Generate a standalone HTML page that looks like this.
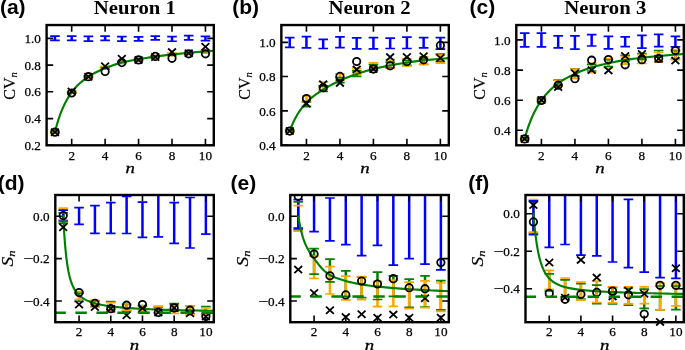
<!DOCTYPE html>
<html><head><meta charset="utf-8"><title>Figure</title>
<style>
html,body{margin:0;padding:0;background:#fff}
svg{display:block}
text{font-family:"Liberation Serif","DejaVu Serif",serif;fill:#000}
.tk text{font-size:13.2px;stroke:#000;stroke-width:.25px}
.pl{font-family:"Liberation Sans","DejaVu Sans",sans-serif;font-weight:bold;font-size:21px}
.ti{font-weight:bold;font-size:19.5px}
.it{font-style:italic;font-size:14.5px;stroke:#000;stroke-width:.3px}
.yl{font-size:16px;stroke:#000;stroke-width:.2px}
.sub{font-style:italic;font-size:10.5px}
</style></head><body>
<svg width="685" height="350" viewBox="0 0 685 350">
<rect width="685" height="350" fill="#fff"/>
<g id="pa" fill="none">
<clipPath id="ca"><rect x="46.6" y="25.05" width="167.2" height="120.25"/></clipPath>
<g clip-path="url(#ca)">
<path d="M54.96 131.4V133M71.68 91.5V93.1M88.4 75.9V77.5M105.12 67.4V69M121.84 61.8V63.4M138.56 58.4V60M155.28 55.8V57.4M172 53.7V55.3M188.72 52V53.6M205.44 50.5V52.1" stroke="#008000" stroke-width="2.5"/>
<path d="M54.96 131V133.4M71.68 90.8V93.2M88.4 75.5V77.9M105.12 66.4V68.8M121.84 60.8V63.2M138.56 58.7V61.1M155.28 55.3V57.7M172 53.2V55.6M188.72 52.3V54.7M205.44 50.8V53.2" stroke="#ffa500" stroke-width="2.5"/>
<path d="M54.96 36.15V40.35M71.68 36.15V40.35M88.4 36.45V41.05M105.12 36.15V40.35M121.84 36.65V41.05M138.56 36.85V40.85M155.28 36.15V39.95M172 36.65V41.25M188.72 35.55V39.95M205.44 36.45V40.65" stroke="#0000ff" stroke-width="2.5"/>
<path d="M50.16 131.4h9.6M50.16 133h9.6M66.88 91.5h9.6M66.88 93.1h9.6M83.6 75.9h9.6M83.6 77.5h9.6M100.32 67.4h9.6M100.32 69h9.6M117.04 61.8h9.6M117.04 63.4h9.6M133.76 58.4h9.6M133.76 60h9.6M150.48 55.8h9.6M150.48 57.4h9.6M167.2 53.7h9.6M167.2 55.3h9.6M183.92 52h9.6M183.92 53.6h9.6M200.64 50.5h9.6M200.64 52.1h9.6" stroke="#008000" stroke-width="1.7"/>
<path d="M50.16 131h9.6M50.16 133.4h9.6M66.88 90.8h9.6M66.88 93.2h9.6M83.6 75.5h9.6M83.6 77.9h9.6M100.32 66.4h9.6M100.32 68.8h9.6M117.04 60.8h9.6M117.04 63.2h9.6M133.76 58.7h9.6M133.76 61.1h9.6M150.48 55.3h9.6M150.48 57.7h9.6M167.2 53.2h9.6M167.2 55.6h9.6M183.92 52.3h9.6M183.92 54.7h9.6M200.64 50.8h9.6M200.64 53.2h9.6" stroke="#ffa500" stroke-width="1.7"/>
<path d="M50.16 36.15h9.6M50.16 40.35h9.6M66.88 36.15h9.6M66.88 40.35h9.6M83.6 36.45h9.6M83.6 41.05h9.6M100.32 36.15h9.6M100.32 40.35h9.6M117.04 36.65h9.6M117.04 41.05h9.6M133.76 36.85h9.6M133.76 40.85h9.6M150.48 36.15h9.6M150.48 39.95h9.6M167.2 36.65h9.6M167.2 41.25h9.6M183.92 35.55h9.6M183.92 39.95h9.6M200.64 36.45h9.6M200.64 40.65h9.6" stroke="#0000ff" stroke-width="1.7"/>
<path d="M54.96 132.2L55.41 130.37L55.87 128.57L56.34 126.79L56.82 125.04L57.32 123.3L57.83 121.6L58.36 119.91L58.9 118.26L59.45 116.62L60.02 115.01L60.6 113.43L61.2 111.86L61.81 110.33L62.44 108.81L63.09 107.33L63.76 105.86L64.44 104.42L65.14 103.01L65.86 101.62L66.6 100.25L67.36 98.91L68.14 97.6L68.94 96.31L69.76 95.04L70.61 93.8L71.47 92.58L72.36 91.39L73.28 90.23L74.21 89.1L75.18 87.99L76.17 86.9L77.18 85.84L78.22 84.81L79.29 83.79L80.39 82.8L81.52 81.82L82.68 80.87L83.87 79.93L85.09 79.01L86.35 78.1L87.63 77.21L88.96 76.34L90.31 75.48L91.71 74.65L93.14 73.83L94.61 73.03L96.12 72.25L97.67 71.48L99.26 70.73L100.89 69.99L102.57 69.26L104.29 68.54L106.06 67.82L107.88 67.11L109.74 66.41L111.65 65.71L113.62 65.03L115.64 64.37L117.71 63.74L119.84 63.13L122.02 62.55L124.27 62.01L126.57 61.49L128.93 61L131.36 60.52L133.85 60.05L136.41 59.58L139.04 59.12L141.74 58.65L144.51 58.2L147.36 57.76L150.28 57.32L153.28 56.88L156.36 56.45L159.52 56.03L162.77 55.6L166.1 55.19L169.52 54.78L173.04 54.38L176.65 54L180.35 53.62L184.16 53.24L188.06 52.86L192.08 52.48L196.19 52.09L200.42 51.72L204.76 51.35L209.22 51.02L213.8 50.7" stroke="#008000" stroke-width="2.15" stroke-linejoin="round"/>
<circle cx="54.96" cy="132.2" r="3.7" stroke="#000" stroke-width="1.8"/>
<path d="M51.06 128.6L58.86 135.8M51.06 135.8L58.86 128.6" stroke="#000" stroke-width="1.8"/>
<circle cx="71.68" cy="93" r="3.7" stroke="#000" stroke-width="1.8"/>
<path d="M67.78 87.9L75.58 95.1M67.78 95.1L75.58 87.9" stroke="#000" stroke-width="1.8"/>
<circle cx="88.4" cy="76.7" r="3.7" stroke="#000" stroke-width="1.8"/>
<path d="M84.5 73.1L92.3 80.3M84.5 80.3L92.3 73.1" stroke="#000" stroke-width="1.8"/>
<circle cx="105.12" cy="71.4" r="3.7" stroke="#000" stroke-width="1.8"/>
<path d="M101.22 62.7L109.02 69.9M101.22 69.9L109.02 62.7" stroke="#000" stroke-width="1.8"/>
<circle cx="121.84" cy="62.6" r="3.7" stroke="#000" stroke-width="1.8"/>
<path d="M117.94 55.2L125.74 62.4M117.94 62.4L125.74 55.2" stroke="#000" stroke-width="1.8"/>
<circle cx="138.56" cy="59.9" r="3.7" stroke="#000" stroke-width="1.8"/>
<path d="M134.66 56.3L142.46 63.5M134.66 63.5L142.46 56.3" stroke="#000" stroke-width="1.8"/>
<circle cx="155.28" cy="56.4" r="3.7" stroke="#000" stroke-width="1.8"/>
<path d="M151.38 53.4L159.18 60.6M151.38 60.6L159.18 53.4" stroke="#000" stroke-width="1.8"/>
<circle cx="172" cy="58.3" r="3.7" stroke="#000" stroke-width="1.8"/>
<path d="M168.1 48.5L175.9 55.7M168.1 55.7L175.9 48.5" stroke="#000" stroke-width="1.8"/>
<circle cx="188.72" cy="53.8" r="3.7" stroke="#000" stroke-width="1.8"/>
<path d="M184.82 49.6L192.62 56.8M184.82 56.8L192.62 49.6" stroke="#000" stroke-width="1.8"/>
<circle cx="205.44" cy="53.8" r="3.7" stroke="#000" stroke-width="1.8"/>
<path d="M201.54 43.1L209.34 50.3M201.54 50.3L209.34 43.1" stroke="#000" stroke-width="1.8"/>
</g>
<path d="M71.68 25.05v6.6M71.68 145.3v-6.6M105.12 25.05v6.6M105.12 145.3v-6.6M138.56 25.05v6.6M138.56 145.3v-6.6M172 25.05v6.6M172 145.3v-6.6M205.44 25.05v6.6M205.44 145.3v-6.6M46.6 38.4h6.6M213.8 38.4h-6.6M46.6 65.1h6.6M213.8 65.1h-6.6M46.6 91.8h6.6M213.8 91.8h-6.6M46.6 118.6h6.6M213.8 118.6h-6.6M46.6 145.3h6.6M213.8 145.3h-6.6" stroke="#000" stroke-width="1.6"/>
<rect x="46.6" y="25.05" width="167.2" height="120.25" stroke="#000" stroke-width="2.4"/>
</g>
<g class="tk">
<text x="71.68" y="160" text-anchor="middle">2</text>
<text x="105.12" y="160" text-anchor="middle">4</text>
<text x="138.56" y="160" text-anchor="middle">6</text>
<text x="172" y="160" text-anchor="middle">8</text>
<text x="205.44" y="160" text-anchor="middle">10</text>
<text x="40.9" y="43" text-anchor="end">1.0</text>
<text x="40.9" y="69.7" text-anchor="end">0.8</text>
<text x="40.9" y="96.4" text-anchor="end">0.6</text>
<text x="40.9" y="123.2" text-anchor="end">0.4</text>
<text x="40.9" y="149.9" text-anchor="end">0.2</text>
</g>
<g id="pb" fill="none">
<clipPath id="cb"><rect x="281.35" y="25.05" width="167.45" height="120.25"/></clipPath>
<g clip-path="url(#cb)">
<path d="M289.72 130.3V132M306.46 102V106.6M323.2 85.8V91.4M339.94 77.6V82.6M356.68 70.7V76.4M373.42 64.5V70M390.16 62.2V67.9M406.9 60.5V65.4M423.64 59.1V64.5M440.38 54.2V61.7" stroke="#008000" stroke-width="2.5"/>
<path d="M289.72 129.8V132.4M306.46 96V101.5M323.2 82V89.5M339.94 73.8V80.1M356.68 68.2V74.1M373.42 62.9V71M390.16 59.7V68.5M406.9 59.2V66M423.64 56.8V64.1M440.38 55V63.1" stroke="#ffa500" stroke-width="2.5"/>
<path d="M289.72 37.55V47.3M306.46 36.55V47.9M323.2 39.45V48.5M339.94 36.95V47.6M356.68 37.85V48.9M373.42 37.55V48.8M390.16 38.15V48.5M406.9 37.15V48.5M423.64 37.55V47.9M440.38 37.55V49.2" stroke="#0000ff" stroke-width="2.5"/>
<path d="M284.92 130.3h9.6M284.92 132h9.6M301.66 102h9.6M301.66 106.6h9.6M318.4 85.8h9.6M318.4 91.4h9.6M335.14 77.6h9.6M335.14 82.6h9.6M351.88 70.7h9.6M351.88 76.4h9.6M368.62 64.5h9.6M368.62 70h9.6M385.36 62.2h9.6M385.36 67.9h9.6M402.1 60.5h9.6M402.1 65.4h9.6M418.84 59.1h9.6M418.84 64.5h9.6M435.58 54.2h9.6M435.58 61.7h9.6" stroke="#008000" stroke-width="1.7"/>
<path d="M284.92 129.8h9.6M284.92 132.4h9.6M301.66 96h9.6M301.66 101.5h9.6M318.4 82h9.6M318.4 89.5h9.6M335.14 73.8h9.6M335.14 80.1h9.6M351.88 68.2h9.6M351.88 74.1h9.6M368.62 62.9h9.6M368.62 71h9.6M385.36 59.7h9.6M385.36 68.5h9.6M402.1 59.2h9.6M402.1 66h9.6M418.84 56.8h9.6M418.84 64.1h9.6M435.58 55h9.6M435.58 63.1h9.6" stroke="#ffa500" stroke-width="1.7"/>
<path d="M284.92 37.55h9.6M284.92 47.3h9.6M301.66 36.55h9.6M301.66 47.9h9.6M318.4 39.45h9.6M318.4 48.5h9.6M335.14 36.95h9.6M335.14 47.6h9.6M351.88 37.85h9.6M351.88 48.9h9.6M368.62 37.55h9.6M368.62 48.8h9.6M385.36 38.15h9.6M385.36 48.5h9.6M402.1 37.15h9.6M402.1 48.5h9.6M418.84 37.55h9.6M418.84 47.9h9.6M435.58 37.55h9.6M435.58 49.2h9.6" stroke="#0000ff" stroke-width="1.7"/>
<path d="M289.72 131.1L290.17 129.86L290.63 128.63L291.1 127.41L291.59 126.21L292.08 125.02L292.6 123.84L293.12 122.67L293.66 121.51L294.21 120.37L294.78 119.24L295.37 118.12L295.96 117.01L296.58 115.92L297.21 114.83L297.86 113.76L298.53 112.7L299.21 111.65L299.91 110.61L300.63 109.59L301.37 108.57L302.13 107.57L302.92 106.58L303.72 105.6L304.54 104.63L305.38 103.67L306.25 102.72L307.14 101.79L308.06 100.88L309 99.99L309.96 99.12L310.95 98.27L311.97 97.42L313.01 96.59L314.08 95.77L315.18 94.96L316.31 94.15L317.47 93.34L318.66 92.53L319.89 91.72L321.14 90.91L322.43 90.08L323.76 89.25L325.12 88.42L326.51 87.58L327.95 86.75L329.42 85.91L330.93 85.08L332.48 84.25L334.07 83.43L335.71 82.6L337.39 81.79L339.11 80.98L340.88 80.18L342.7 79.38L344.57 78.58L346.48 77.79L348.45 77.01L350.47 76.23L352.55 75.46L354.68 74.69L356.86 73.94L359.11 73.19L361.41 72.44L363.78 71.7L366.21 70.97L368.71 70.25L371.27 69.55L373.9 68.88L376.6 68.23L379.38 67.6L382.23 66.98L385.15 66.38L388.16 65.78L391.24 65.2L394.41 64.62L397.66 64.06L400.99 63.51L404.42 62.97L407.94 62.45L411.55 61.93L415.26 61.42L419.07 60.94L422.98 60.47L427 60.04L431.12 59.64L435.36 59.25L439.7 58.86L444.17 58.48L448.75 58.1" stroke="#008000" stroke-width="2.15" stroke-linejoin="round"/>
<circle cx="289.72" cy="131.1" r="3.7" stroke="#000" stroke-width="1.8"/>
<path d="M285.82 127.5L293.62 134.7M285.82 134.7L293.62 127.5" stroke="#000" stroke-width="1.8"/>
<circle cx="306.46" cy="98.5" r="3.7" stroke="#000" stroke-width="1.8"/>
<path d="M302.56 100L310.36 107.2M302.56 107.2L310.36 100" stroke="#000" stroke-width="1.8"/>
<circle cx="323.2" cy="87.7" r="3.7" stroke="#000" stroke-width="1.8"/>
<path d="M319.3 80.6L327.1 87.8M319.3 87.8L327.1 80.6" stroke="#000" stroke-width="1.8"/>
<circle cx="339.94" cy="76.4" r="3.7" stroke="#000" stroke-width="1.8"/>
<path d="M336.04 79.3L343.84 86.5M336.04 86.5L343.84 79.3" stroke="#000" stroke-width="1.8"/>
<circle cx="356.68" cy="61.5" r="3.7" stroke="#000" stroke-width="1.8"/>
<path d="M352.78 65.8L360.58 73M352.78 73L360.58 65.8" stroke="#000" stroke-width="1.8"/>
<circle cx="373.42" cy="69.1" r="3.7" stroke="#000" stroke-width="1.8"/>
<path d="M369.52 65.5L377.32 72.7M369.52 72.7L377.32 65.5" stroke="#000" stroke-width="1.8"/>
<circle cx="390.16" cy="65.8" r="3.7" stroke="#000" stroke-width="1.8"/>
<path d="M386.26 53.5L394.06 60.7M386.26 60.7L394.06 53.5" stroke="#000" stroke-width="1.8"/>
<circle cx="406.9" cy="61.6" r="3.7" stroke="#000" stroke-width="1.8"/>
<path d="M403 53.4L410.8 60.6M403 60.6L410.8 53.4" stroke="#000" stroke-width="1.8"/>
<circle cx="423.64" cy="59.8" r="3.7" stroke="#000" stroke-width="1.8"/>
<path d="M419.74 52.7L427.54 59.9M419.74 59.9L427.54 52.7" stroke="#000" stroke-width="1.8"/>
<circle cx="440.38" cy="45.4" r="3.7" stroke="#000" stroke-width="1.8"/>
<path d="M436.48 54.4L444.28 61.6M436.48 61.6L444.28 54.4" stroke="#000" stroke-width="1.8"/>
</g>
<path d="M306.46 25.05v6.6M306.46 145.3v-6.6M339.94 25.05v6.6M339.94 145.3v-6.6M373.42 25.05v6.6M373.42 145.3v-6.6M406.9 25.05v6.6M406.9 145.3v-6.6M440.38 25.05v6.6M440.38 145.3v-6.6M281.35 42.4h6.6M448.8 42.4h-6.6M281.35 76.5h6.6M448.8 76.5h-6.6M281.35 110.9h6.6M448.8 110.9h-6.6M281.35 145.3h6.6M448.8 145.3h-6.6" stroke="#000" stroke-width="1.6"/>
<rect x="281.35" y="25.05" width="167.45" height="120.25" stroke="#000" stroke-width="2.4"/>
</g>
<g class="tk">
<text x="306.46" y="160" text-anchor="middle">2</text>
<text x="339.94" y="160" text-anchor="middle">4</text>
<text x="373.42" y="160" text-anchor="middle">6</text>
<text x="406.9" y="160" text-anchor="middle">8</text>
<text x="440.38" y="160" text-anchor="middle">10</text>
<text x="275.65" y="47" text-anchor="end">1.0</text>
<text x="275.65" y="81.1" text-anchor="end">0.8</text>
<text x="275.65" y="115.5" text-anchor="end">0.6</text>
<text x="275.65" y="149.9" text-anchor="end">0.4</text>
</g>
<g id="pc" fill="none">
<clipPath id="cc"><rect x="516.3" y="25.05" width="167.5" height="120.25"/></clipPath>
<g clip-path="url(#cc)">
<path d="M524.67 138V139.8M541.42 98.8V101.5M558.17 80.2V85.5M574.92 68.9V76M591.67 64.5V71M608.42 59.7V66.7M625.17 55.4V61M641.92 53.5V59.5M658.67 50.5V56M675.42 50.7V59.2" stroke="#008000" stroke-width="2.5"/>
<path d="M524.67 137.5V140M541.42 98V102M558.17 80.5V86M574.92 69.2V78.3M591.67 63.2V72.6M608.42 58.5V67.9M625.17 56.6V64.1M641.92 54.7V63.5M658.67 52.4V62M675.42 49.7V59.7" stroke="#ffa500" stroke-width="2.5"/>
<path d="M524.67 33.15V46.9M541.42 33.15V46.9M558.17 35.95V47.9M574.92 35.95V49.2M591.67 34.65V46M608.42 36.35V48.9M625.17 36.95V46.6M641.92 35.45V48.2M658.67 34.45V46.6M675.42 36.35V46.9" stroke="#0000ff" stroke-width="2.5"/>
<path d="M519.88 138h9.6M519.88 139.8h9.6M536.62 98.8h9.6M536.62 101.5h9.6M553.38 80.2h9.6M553.38 85.5h9.6M570.12 68.9h9.6M570.12 76h9.6M586.88 64.5h9.6M586.88 71h9.6M603.62 59.7h9.6M603.62 66.7h9.6M620.38 55.4h9.6M620.38 61h9.6M637.12 53.5h9.6M637.12 59.5h9.6M653.88 50.5h9.6M653.88 56h9.6M670.62 50.7h9.6M670.62 59.2h9.6" stroke="#008000" stroke-width="1.7"/>
<path d="M519.88 137.5h9.6M519.88 140h9.6M536.62 98h9.6M536.62 102h9.6M553.38 80.5h9.6M553.38 86h9.6M570.12 69.2h9.6M570.12 78.3h9.6M586.88 63.2h9.6M586.88 72.6h9.6M603.62 58.5h9.6M603.62 67.9h9.6M620.38 56.6h9.6M620.38 64.1h9.6M637.12 54.7h9.6M637.12 63.5h9.6M653.88 52.4h9.6M653.88 62h9.6M670.62 49.7h9.6M670.62 59.7h9.6" stroke="#ffa500" stroke-width="1.7"/>
<path d="M519.88 33.15h9.6M519.88 46.9h9.6M536.62 33.15h9.6M536.62 46.9h9.6M553.38 35.95h9.6M553.38 47.9h9.6M570.12 35.95h9.6M570.12 49.2h9.6M586.88 34.65h9.6M586.88 46h9.6M603.62 36.35h9.6M603.62 48.9h9.6M620.38 36.95h9.6M620.38 46.6h9.6M637.12 35.45h9.6M637.12 48.2h9.6M653.88 34.45h9.6M653.88 46.6h9.6M670.62 36.35h9.6M670.62 46.9h9.6" stroke="#0000ff" stroke-width="1.7"/>
<path d="M524.67 138.9L525.12 137.21L525.58 135.53L526.06 133.88L526.54 132.24L527.04 130.62L527.55 129.02L528.08 127.43L528.62 125.87L529.17 124.32L529.74 122.78L530.32 121.27L530.92 119.77L531.54 118.29L532.17 116.83L532.82 115.38L533.49 113.95L534.17 112.54L534.87 111.15L535.6 109.77L536.34 108.41L537.1 107.06L537.88 105.74L538.68 104.43L539.5 103.13L540.35 101.86L541.22 100.59L542.11 99.35L543.02 98.13L543.96 96.92L544.93 95.73L545.92 94.56L546.94 93.4L547.98 92.27L549.05 91.15L550.15 90.06L551.28 88.98L552.44 87.92L553.64 86.87L554.86 85.85L556.12 84.85L557.41 83.86L558.73 82.9L560.09 81.96L561.49 81.04L562.92 80.15L564.4 79.28L565.91 78.42L567.46 77.57L569.05 76.74L570.69 75.91L572.37 75.1L574.1 74.28L575.87 73.47L577.69 72.66L579.55 71.85L581.47 71.05L583.44 70.27L585.46 69.5L587.54 68.76L589.67 68.03L591.86 67.34L594.1 66.68L596.41 66.05L598.78 65.43L601.21 64.84L603.71 64.25L606.28 63.67L608.91 63.1L611.61 62.52L614.39 61.95L617.24 61.39L620.16 60.84L623.17 60.32L626.25 59.83L629.42 59.37L632.68 58.93L636.02 58.5L639.44 58.09L642.97 57.68L646.58 57.29L650.29 56.91L654.1 56.54L658.02 56.16L662.04 55.78L666.16 55.39L670.4 55.02L674.75 54.65L679.21 54.32L683.8 54" stroke="#008000" stroke-width="2.15" stroke-linejoin="round"/>
<circle cx="524.67" cy="138.9" r="3.7" stroke="#000" stroke-width="1.8"/>
<path d="M520.77 135.3L528.57 142.5M520.77 142.5L528.57 135.3" stroke="#000" stroke-width="1.8"/>
<circle cx="541.42" cy="100.5" r="3.7" stroke="#000" stroke-width="1.8"/>
<path d="M537.52 96.4L545.32 103.6M537.52 103.6L545.32 96.4" stroke="#000" stroke-width="1.8"/>
<circle cx="558.17" cy="85.2" r="3.7" stroke="#000" stroke-width="1.8"/>
<path d="M554.27 83.5L562.07 90.7M554.27 90.7L562.07 83.5" stroke="#000" stroke-width="1.8"/>
<circle cx="574.92" cy="78.7" r="3.7" stroke="#000" stroke-width="1.8"/>
<path d="M571.02 69.7L578.82 76.9M571.02 76.9L578.82 69.7" stroke="#000" stroke-width="1.8"/>
<circle cx="591.67" cy="60.2" r="3.7" stroke="#000" stroke-width="1.8"/>
<path d="M587.77 66.5L595.57 73.7M587.77 73.7L595.57 66.5" stroke="#000" stroke-width="1.8"/>
<circle cx="608.42" cy="59.6" r="3.7" stroke="#000" stroke-width="1.8"/>
<path d="M604.52 66.8L612.32 74M604.52 74L612.32 66.8" stroke="#000" stroke-width="1.8"/>
<circle cx="625.17" cy="64.8" r="3.7" stroke="#000" stroke-width="1.8"/>
<path d="M621.27 52.4L629.07 59.6M621.27 59.6L629.07 52.4" stroke="#000" stroke-width="1.8"/>
<circle cx="641.92" cy="59.7" r="3.7" stroke="#000" stroke-width="1.8"/>
<path d="M638.02 50.4L645.82 57.6M638.02 57.6L645.82 50.4" stroke="#000" stroke-width="1.8"/>
<circle cx="658.67" cy="58.5" r="3.7" stroke="#000" stroke-width="1.8"/>
<path d="M654.77 55.2L662.57 62.4M654.77 62.4L662.57 55.2" stroke="#000" stroke-width="1.8"/>
<circle cx="675.42" cy="50.5" r="3.7" stroke="#000" stroke-width="1.8"/>
<path d="M671.52 57L679.32 64.2M671.52 64.2L679.32 57" stroke="#000" stroke-width="1.8"/>
</g>
<path d="M541.42 25.05v6.6M541.42 145.3v-6.6M574.92 25.05v6.6M574.92 145.3v-6.6M608.42 25.05v6.6M608.42 145.3v-6.6M641.92 25.05v6.6M641.92 145.3v-6.6M675.42 25.05v6.6M675.42 145.3v-6.6M516.3 39.9h6.6M683.8 39.9h-6.6M516.3 70.1h6.6M683.8 70.1h-6.6M516.3 100.2h6.6M683.8 100.2h-6.6M516.3 130.3h6.6M683.8 130.3h-6.6" stroke="#000" stroke-width="1.6"/>
<rect x="516.3" y="25.05" width="167.5" height="120.25" stroke="#000" stroke-width="2.4"/>
</g>
<g class="tk">
<text x="541.42" y="160" text-anchor="middle">2</text>
<text x="574.92" y="160" text-anchor="middle">4</text>
<text x="608.42" y="160" text-anchor="middle">6</text>
<text x="641.92" y="160" text-anchor="middle">8</text>
<text x="675.42" y="160" text-anchor="middle">10</text>
<text x="510.6" y="44.5" text-anchor="end">1.0</text>
<text x="510.6" y="74.7" text-anchor="end">0.8</text>
<text x="510.6" y="104.8" text-anchor="end">0.6</text>
<text x="510.6" y="134.9" text-anchor="end">0.4</text>
</g>
<g id="pd" fill="none">
<clipPath id="cd"><rect x="55.3" y="195" width="158.5" height="127.2"/></clipPath>
<g clip-path="url(#cd)">
<path d="M63.22 212.9V223.2M79.07 293.2V301.4M94.92 300.9V306.5M110.78 301.6V309.5M126.62 304.5V311M142.47 305.5V312.7M158.32 307V313M174.18 303.6V311M190.02 306V313.5M205.88 306.7V314" stroke="#008000" stroke-width="2.5"/>
<path d="M63.22 208.1V219.8M79.07 291.6V299.5M94.92 300.4V307M110.78 302.6V311.4M126.62 303.9V310.2M142.47 305.8V311.4M158.32 306.2V312.7M174.18 305V313.3M190.02 305.8V315.2M205.88 307.9V314.6" stroke="#ffa500" stroke-width="2.5"/>
<path d="M63.22 210.1V221M79.07 207.6V224.4M94.92 205.7V233.4M110.78 202.6V233.4M126.62 196.5V233.5M142.47 202.2V237.4M158.32 185V236.8M174.18 202.6V243.4M190.02 197.5V248M205.88 185V234.2" stroke="#0000ff" stroke-width="2.5"/>
<path d="M58.42 212.9h9.6M58.42 223.2h9.6M74.27 293.2h9.6M74.27 301.4h9.6M90.12 300.9h9.6M90.12 306.5h9.6M105.98 301.6h9.6M105.98 309.5h9.6M121.83 304.5h9.6M121.83 311h9.6M137.67 305.5h9.6M137.67 312.7h9.6M153.52 307h9.6M153.52 313h9.6M169.38 303.6h9.6M169.38 311h9.6M185.22 306h9.6M185.22 313.5h9.6M201.07 306.7h9.6M201.07 314h9.6" stroke="#008000" stroke-width="1.7"/>
<path d="M58.42 208.1h9.6M58.42 219.8h9.6M74.27 291.6h9.6M74.27 299.5h9.6M90.12 300.4h9.6M90.12 307h9.6M105.98 302.6h9.6M105.98 311.4h9.6M121.83 303.9h9.6M121.83 310.2h9.6M137.67 305.8h9.6M137.67 311.4h9.6M153.52 306.2h9.6M153.52 312.7h9.6M169.38 305h9.6M169.38 313.3h9.6M185.22 305.8h9.6M185.22 315.2h9.6M201.07 307.9h9.6M201.07 314.6h9.6" stroke="#ffa500" stroke-width="1.7"/>
<path d="M58.42 210.1h9.6M58.42 221h9.6M74.27 207.6h9.6M74.27 224.4h9.6M90.12 205.7h9.6M90.12 233.4h9.6M105.98 202.6h9.6M105.98 233.4h9.6M121.83 196.5h9.6M121.83 233.5h9.6M137.67 202.2h9.6M137.67 237.4h9.6M153.52 185h9.6M153.52 236.8h9.6M169.38 202.6h9.6M169.38 243.4h9.6M185.22 197.5h9.6M185.22 248h9.6M201.07 185h9.6M201.07 234.2h9.6" stroke="#0000ff" stroke-width="1.7"/>
<path d="M63.22 215.3L63.65 223.62L64.09 231.07L64.53 237.74L64.99 243.73L65.46 249.11L65.95 253.94L66.44 258.3L66.96 262.23L67.48 265.78L68.02 269L68.57 271.91L69.14 274.56L69.72 276.96L70.32 279.15L70.93 281.16L71.56 282.99L72.21 284.67L72.88 286.21L73.56 287.63L74.26 288.94L74.98 290.15L75.72 291.27L76.48 292.32L77.26 293.28L78.06 294.18L78.88 295.03L79.72 295.81L80.59 296.55L81.48 297.24L82.39 297.89L83.33 298.51L84.29 299.09L85.28 299.63L86.29 300.15L87.33 300.64L88.4 301.11L89.5 301.55L90.63 301.97L91.79 302.37L92.98 302.75L94.2 303.12L95.45 303.47L96.74 303.8L98.06 304.12L99.42 304.42L100.81 304.72L102.24 305L103.71 305.27L105.22 305.52L106.77 305.77L108.36 306.01L109.99 306.24L111.67 306.46L113.39 306.67L115.15 306.88L116.97 307.07L118.83 307.26L120.75 307.44L122.71 307.62L124.73 307.79L126.8 307.95L128.92 308.11L131.11 308.26L133.35 308.41L135.65 308.55L138.01 308.68L140.44 308.81L142.93 308.94L145.49 309.06L148.12 309.18L150.81 309.29L153.58 309.4L156.43 309.51L159.35 309.61L162.34 309.71L165.42 309.81L168.58 309.9L171.83 309.99L175.16 310.07L178.58 310.16L182.09 310.24L185.7 310.31L189.4 310.39L193.21 310.46L197.11 310.53L201.12 310.6L205.23 310.66L209.46 310.73L213.8 310.79" stroke="#008000" stroke-width="2.15" stroke-linejoin="round"/>
<circle cx="63.22" cy="215.6" r="3.7" stroke="#000" stroke-width="1.8"/>
<path d="M59.32 223.7L67.12 230.9M59.32 230.9L67.12 223.7" stroke="#000" stroke-width="1.8"/>
<circle cx="79.07" cy="292.6" r="3.7" stroke="#000" stroke-width="1.8"/>
<path d="M75.17 300.9L82.97 308.1M75.17 308.1L82.97 300.9" stroke="#000" stroke-width="1.8"/>
<circle cx="94.92" cy="303.3" r="3.7" stroke="#000" stroke-width="1.8"/>
<path d="M91.02 303.4L98.83 310.6M91.02 310.6L98.83 303.4" stroke="#000" stroke-width="1.8"/>
<circle cx="110.78" cy="308.7" r="3.7" stroke="#000" stroke-width="1.8"/>
<path d="M106.88 305.1L114.68 312.3M106.88 312.3L114.68 305.1" stroke="#000" stroke-width="1.8"/>
<circle cx="126.62" cy="305.2" r="3.7" stroke="#000" stroke-width="1.8"/>
<path d="M122.72 311.6L130.53 318.8M122.72 318.8L130.53 311.6" stroke="#000" stroke-width="1.8"/>
<circle cx="142.47" cy="304.5" r="3.7" stroke="#000" stroke-width="1.8"/>
<path d="M138.57 304.7L146.38 311.9M138.57 311.9L146.38 304.7" stroke="#000" stroke-width="1.8"/>
<circle cx="158.32" cy="312.4" r="3.7" stroke="#000" stroke-width="1.8"/>
<path d="M154.42 308.8L162.22 316M154.42 316L162.22 308.8" stroke="#000" stroke-width="1.8"/>
<circle cx="174.18" cy="307.9" r="3.7" stroke="#000" stroke-width="1.8"/>
<path d="M170.28 304.3L178.08 311.5M170.28 311.5L178.08 304.3" stroke="#000" stroke-width="1.8"/>
<circle cx="190.02" cy="310.2" r="3.7" stroke="#000" stroke-width="1.8"/>
<path d="M186.12 309.7L193.92 316.9M186.12 316.9L193.92 309.7" stroke="#000" stroke-width="1.8"/>
<circle cx="205.88" cy="316.5" r="3.7" stroke="#000" stroke-width="1.8"/>
<path d="M201.97 312.9L209.78 320.1M201.97 320.1L209.78 312.9" stroke="#000" stroke-width="1.8"/>
<path d="M54.4 312.7H213.8" stroke="#008000" stroke-width="2.5" stroke-dasharray="11.4 9.6"/>
</g>
<path d="M79.07 195v6.6M79.07 322.2v-6.6M110.78 195v6.6M110.78 322.2v-6.6M142.47 195v6.6M142.47 322.2v-6.6M174.18 195v6.6M174.18 322.2v-6.6M205.88 195v6.6M205.88 322.2v-6.6M55.3 216.2h6.6M213.8 216.2h-6.6M55.3 258.6h6.6M213.8 258.6h-6.6M55.3 301h6.6M213.8 301h-6.6" stroke="#000" stroke-width="1.6"/>
<rect x="55.3" y="195" width="158.5" height="127.2" stroke="#000" stroke-width="2.4"/>
</g>
<g class="tk">
<text x="79.07" y="336.2" text-anchor="middle">2</text>
<text x="110.78" y="336.2" text-anchor="middle">4</text>
<text x="142.47" y="336.2" text-anchor="middle">6</text>
<text x="174.18" y="336.2" text-anchor="middle">8</text>
<text x="205.88" y="336.2" text-anchor="middle">10</text>
<text x="49.6" y="220.8" text-anchor="end">0.0</text>
<text x="49.6" y="263.2" text-anchor="end">0.2</text>
<text x="33.3" y="263.2" text-anchor="end" textLength="10" lengthAdjust="spacingAndGlyphs">−</text>
<text x="49.6" y="305.6" text-anchor="end">0.4</text>
<text x="33.3" y="305.6" text-anchor="end" textLength="10" lengthAdjust="spacingAndGlyphs">−</text>
</g>
<g id="pe" fill="none">
<clipPath id="ce"><rect x="290.3" y="195" width="158.5" height="127.2"/></clipPath>
<g clip-path="url(#ce)">
<path d="M298.23 201.8V229.8M314.07 248.6V274.2M329.93 259.1V281.9M345.78 270.8V296.4M361.62 276.8V297.6M377.48 272.2V299.5M393.32 275.8V296.4M409.18 279.2V307.4M425.02 275.8V307M440.88 280.7V309.9" stroke="#008000" stroke-width="2.5"/>
<path d="M298.23 205.6V231.1M314.07 256V278.5M329.93 266.7V294M345.78 276.2V299.8M361.62 276.5V299.6M377.48 281.4V306.7M393.32 280V306.4M409.18 282.1V308.7M425.02 280.8V307.7M440.88 283V311.4" stroke="#ffa500" stroke-width="2.5"/>
<path d="M298.23 199.7V228.2M314.07 185V231.6M329.93 198V240.9M345.78 185V244.6M361.62 185V255.6M377.48 185V245.4M393.32 185V265.1M409.18 185V258.7M425.02 185V264.2M440.88 185V269.8" stroke="#0000ff" stroke-width="2.5"/>
<path d="M293.43 201.8h9.6M293.43 229.8h9.6M309.27 248.6h9.6M309.27 274.2h9.6M325.12 259.1h9.6M325.12 281.9h9.6M340.98 270.8h9.6M340.98 296.4h9.6M356.82 276.8h9.6M356.82 297.6h9.6M372.68 272.2h9.6M372.68 299.5h9.6M388.52 275.8h9.6M388.52 296.4h9.6M404.38 279.2h9.6M404.38 307.4h9.6M420.22 275.8h9.6M420.22 307h9.6M436.07 280.7h9.6M436.07 309.9h9.6" stroke="#008000" stroke-width="1.7"/>
<path d="M293.43 205.6h9.6M293.43 231.1h9.6M309.27 256h9.6M309.27 278.5h9.6M325.12 266.7h9.6M325.12 294h9.6M340.98 276.2h9.6M340.98 299.8h9.6M356.82 276.5h9.6M356.82 299.6h9.6M372.68 281.4h9.6M372.68 306.7h9.6M388.52 280h9.6M388.52 306.4h9.6M404.38 282.1h9.6M404.38 308.7h9.6M420.22 280.8h9.6M420.22 307.7h9.6M436.07 283h9.6M436.07 311.4h9.6" stroke="#ffa500" stroke-width="1.7"/>
<path d="M293.43 199.7h9.6M293.43 228.2h9.6M309.27 185h9.6M309.27 231.6h9.6M325.12 198h9.6M325.12 240.9h9.6M340.98 185h9.6M340.98 244.6h9.6M356.82 185h9.6M356.82 255.6h9.6M372.68 185h9.6M372.68 245.4h9.6M388.52 185h9.6M388.52 265.1h9.6M404.38 185h9.6M404.38 258.7h9.6M420.22 185h9.6M420.22 264.2h9.6M436.07 185h9.6M436.07 269.8h9.6" stroke="#0000ff" stroke-width="1.7"/>
<path d="M298.23 215.8L298.65 218.29L299.09 220.74L299.53 223.13L299.99 225.46L300.46 227.72L300.95 229.91L301.44 232.01L301.96 234.01L302.48 235.92L303.02 237.73L303.57 239.42L304.14 241L304.72 242.5L305.32 243.94L305.93 245.31L306.56 246.62L307.21 247.89L307.88 249.11L308.56 250.3L309.26 251.46L309.98 252.6L310.72 253.73L311.48 254.84L312.26 255.96L313.06 257.09L313.88 258.23L314.72 259.39L315.59 260.57L316.48 261.76L317.39 262.97L318.33 264.17L319.29 265.36L320.28 266.54L321.29 267.69L322.33 268.82L323.4 269.91L324.5 270.96L325.63 271.96L326.79 272.89L327.98 273.77L329.2 274.57L330.45 275.29L331.74 275.97L333.06 276.61L334.42 277.21L335.81 277.79L337.24 278.33L338.71 278.85L340.22 279.35L341.77 279.84L343.36 280.32L344.99 280.78L346.67 281.24L348.39 281.69L350.15 282.12L351.97 282.53L353.83 282.94L355.75 283.33L357.71 283.7L359.73 284.07L361.8 284.43L363.92 284.78L366.11 285.12L368.35 285.45L370.65 285.77L373.01 286.08L375.44 286.37L377.93 286.65L380.49 286.91L383.12 287.15L385.81 287.39L388.58 287.62L391.43 287.85L394.35 288.08L397.34 288.33L400.42 288.57L403.58 288.81L406.83 289.04L410.16 289.26L413.58 289.47L417.09 289.67L420.7 289.87L424.4 290.07L428.21 290.27L432.11 290.48L436.12 290.68L440.23 290.87L444.46 291.04L448.8 291.2" stroke="#008000" stroke-width="2.15" stroke-linejoin="round"/>
<circle cx="298.23" cy="196.3" r="3.7" stroke="#000" stroke-width="1.8"/>
<path d="M294.33 266L302.12 273.2M294.33 273.2L302.12 266" stroke="#000" stroke-width="1.8"/>
<circle cx="314.07" cy="254.1" r="3.7" stroke="#000" stroke-width="1.8"/>
<path d="M310.18 289.4L317.97 296.6M310.18 296.6L317.97 289.4" stroke="#000" stroke-width="1.8"/>
<circle cx="329.93" cy="275.8" r="3.7" stroke="#000" stroke-width="1.8"/>
<path d="M326.03 306.6L333.82 313.8M326.03 313.8L333.82 306.6" stroke="#000" stroke-width="1.8"/>
<circle cx="345.78" cy="294.9" r="3.7" stroke="#000" stroke-width="1.8"/>
<path d="M341.88 313.5L349.68 320.7M341.88 320.7L349.68 313.5" stroke="#000" stroke-width="1.8"/>
<circle cx="361.62" cy="281" r="3.7" stroke="#000" stroke-width="1.8"/>
<path d="M357.73 310.7L365.52 317.9M357.73 317.9L365.52 310.7" stroke="#000" stroke-width="1.8"/>
<circle cx="377.48" cy="284" r="3.7" stroke="#000" stroke-width="1.8"/>
<path d="M373.58 314.1L381.38 321.3M373.58 321.3L381.38 314.1" stroke="#000" stroke-width="1.8"/>
<circle cx="393.32" cy="278.7" r="3.7" stroke="#000" stroke-width="1.8"/>
<path d="M389.43 311L397.22 318.2M389.43 318.2L397.22 311" stroke="#000" stroke-width="1.8"/>
<circle cx="409.18" cy="287.7" r="3.7" stroke="#000" stroke-width="1.8"/>
<path d="M405.28 314.1L413.07 321.3M405.28 321.3L413.07 314.1" stroke="#000" stroke-width="1.8"/>
<circle cx="425.02" cy="288.7" r="3.7" stroke="#000" stroke-width="1.8"/>
<path d="M421.12 294.6L428.92 301.8M421.12 301.8L428.92 294.6" stroke="#000" stroke-width="1.8"/>
<circle cx="440.88" cy="262.5" r="3.7" stroke="#000" stroke-width="1.8"/>
<path d="M436.98 314.1L444.77 321.3M436.98 321.3L444.77 314.1" stroke="#000" stroke-width="1.8"/>
<path d="M289.4 296.4H448.8" stroke="#008000" stroke-width="2.5" stroke-dasharray="11.4 9.6"/>
</g>
<path d="M314.07 195v6.6M314.07 322.2v-6.6M345.78 195v6.6M345.78 322.2v-6.6M377.48 195v6.6M377.48 322.2v-6.6M409.18 195v6.6M409.18 322.2v-6.6M440.88 195v6.6M440.88 322.2v-6.6M290.3 216.2h6.6M448.8 216.2h-6.6M290.3 258.6h6.6M448.8 258.6h-6.6M290.3 301h6.6M448.8 301h-6.6" stroke="#000" stroke-width="1.6"/>
<rect x="290.3" y="195" width="158.5" height="127.2" stroke="#000" stroke-width="2.4"/>
</g>
<g class="tk">
<text x="314.07" y="336.2" text-anchor="middle">2</text>
<text x="345.78" y="336.2" text-anchor="middle">4</text>
<text x="377.48" y="336.2" text-anchor="middle">6</text>
<text x="409.18" y="336.2" text-anchor="middle">8</text>
<text x="440.88" y="336.2" text-anchor="middle">10</text>
<text x="284.6" y="220.8" text-anchor="end">0.0</text>
<text x="284.6" y="263.2" text-anchor="end">0.2</text>
<text x="268.3" y="263.2" text-anchor="end" textLength="10" lengthAdjust="spacingAndGlyphs">−</text>
<text x="284.6" y="305.6" text-anchor="end">0.4</text>
<text x="268.3" y="305.6" text-anchor="end" textLength="10" lengthAdjust="spacingAndGlyphs">−</text>
</g>
<g id="pf" fill="none">
<clipPath id="cf"><rect x="525.5" y="195" width="158.3" height="127.2"/></clipPath>
<g clip-path="url(#cf)">
<path d="M533.41 201.5V233M549.25 273.8V291M565.08 279.8V296.8M580.9 283.6V299M596.74 285.1V303.7M612.57 287.5V303.9M628.39 288V305.2M644.23 289.1V308.3M660.06 286V309.9M675.88 286V309.6" stroke="#008000" stroke-width="2.5"/>
<path d="M533.41 199.7V232.2M549.25 270.4V289.3M565.08 278V297.5M580.9 282.1V300.2M596.74 281.1V302.5M612.57 286.9V302.9M628.39 286.9V303.9M644.23 286.9V303.6M660.06 283.1V309.9M675.88 283.8V305.8" stroke="#ffa500" stroke-width="2.5"/>
<path d="M533.41 200.9V234.7M549.25 185V247.4M565.08 185V244.5M580.9 185V255.2M596.74 185V255.8M612.57 185V262M628.39 199.4V267.7M644.23 185V272.1M660.06 185V277.7M675.88 185V278.4" stroke="#0000ff" stroke-width="2.5"/>
<path d="M528.62 201.5h9.6M528.62 233h9.6M544.45 273.8h9.6M544.45 291h9.6M560.28 279.8h9.6M560.28 296.8h9.6M576.11 283.6h9.6M576.11 299h9.6M591.94 285.1h9.6M591.94 303.7h9.6M607.77 287.5h9.6M607.77 303.9h9.6M623.6 288h9.6M623.6 305.2h9.6M639.43 289.1h9.6M639.43 308.3h9.6M655.26 286h9.6M655.26 309.9h9.6M671.09 286h9.6M671.09 309.6h9.6" stroke="#008000" stroke-width="1.7"/>
<path d="M528.62 199.7h9.6M528.62 232.2h9.6M544.45 270.4h9.6M544.45 289.3h9.6M560.28 278h9.6M560.28 297.5h9.6M576.11 282.1h9.6M576.11 300.2h9.6M591.94 281.1h9.6M591.94 302.5h9.6M607.77 286.9h9.6M607.77 302.9h9.6M623.6 286.9h9.6M623.6 303.9h9.6M639.43 286.9h9.6M639.43 303.6h9.6M655.26 283.1h9.6M655.26 309.9h9.6M671.09 283.8h9.6M671.09 305.8h9.6" stroke="#ffa500" stroke-width="1.7"/>
<path d="M528.62 200.9h9.6M528.62 234.7h9.6M544.45 185h9.6M544.45 247.4h9.6M560.28 185h9.6M560.28 244.5h9.6M576.11 185h9.6M576.11 255.2h9.6M591.94 185h9.6M591.94 255.8h9.6M607.77 185h9.6M607.77 262h9.6M623.6 199.4h9.6M623.6 267.7h9.6M639.43 185h9.6M639.43 272.1h9.6M655.26 185h9.6M655.26 277.7h9.6M671.09 185h9.6M671.09 278.4h9.6" stroke="#0000ff" stroke-width="1.7"/>
<path d="M533.41 213.23L533.84 218.46L534.27 223.33L534.72 227.87L535.18 232.11L535.65 236.05L536.13 239.73L536.63 243.16L537.14 246.36L537.66 249.34L538.2 252.13L538.75 254.72L539.32 257.14L539.9 259.4L540.5 261.51L541.11 263.47L541.74 265.31L542.39 267.02L543.05 268.62L543.74 270.12L544.44 271.51L545.15 272.82L545.89 274.04L546.65 275.18L547.43 276.24L548.23 277.24L549.05 278.17L549.89 279.05L550.76 279.86L551.64 280.63L552.56 281.35L553.49 282.02L554.45 282.65L555.44 283.24L556.45 283.8L557.49 284.32L558.56 284.81L559.66 285.27L560.79 285.71L561.94 286.12L563.13 286.5L564.35 286.86L565.6 287.21L566.89 287.53L568.21 287.84L569.56 288.13L570.95 288.4L572.38 288.66L573.85 288.91L575.36 289.14L576.9 289.36L578.49 289.58L580.12 289.78L581.8 289.97L583.51 290.15L585.28 290.33L587.09 290.5L588.95 290.66L590.86 290.81L592.83 290.96L594.84 291.1L596.91 291.24L599.03 291.38L601.21 291.5L603.45 291.63L605.75 291.75L608.11 291.86L610.53 291.98L613.02 292.09L615.58 292.19L618.2 292.3L620.89 292.4L623.66 292.5L626.5 292.59L629.42 292.69L632.41 292.78L635.48 292.87L638.64 292.96L641.88 293.05L645.21 293.13L648.62 293.22L652.13 293.3L655.74 293.38L659.43 293.46L663.23 293.54L667.13 293.62L671.13 293.7L675.25 293.78L679.47 293.86L683.8 293.93" stroke="#008000" stroke-width="2.15" stroke-linejoin="round"/>
<circle cx="533.41" cy="221.9" r="3.7" stroke="#000" stroke-width="1.8"/>
<path d="M529.51 201.5L537.31 208.7M529.51 208.7L537.31 201.5" stroke="#000" stroke-width="1.8"/>
<circle cx="549.25" cy="293.4" r="3.7" stroke="#000" stroke-width="1.8"/>
<path d="M545.35 258.9L553.14 266.1M545.35 266.1L553.14 258.9" stroke="#000" stroke-width="1.8"/>
<circle cx="565.08" cy="299.3" r="3.7" stroke="#000" stroke-width="1.8"/>
<path d="M561.18 294.2L568.98 301.4M561.18 301.4L568.98 294.2" stroke="#000" stroke-width="1.8"/>
<circle cx="580.9" cy="294.3" r="3.7" stroke="#000" stroke-width="1.8"/>
<path d="M577 256.3L584.8 263.5M577 263.5L584.8 256.3" stroke="#000" stroke-width="1.8"/>
<circle cx="596.74" cy="292.4" r="3.7" stroke="#000" stroke-width="1.8"/>
<path d="M592.84 274L600.63 281.2M592.84 281.2L600.63 274" stroke="#000" stroke-width="1.8"/>
<circle cx="612.57" cy="291.1" r="3.7" stroke="#000" stroke-width="1.8"/>
<path d="M608.67 292.8L616.47 300M608.67 300L616.47 292.8" stroke="#000" stroke-width="1.8"/>
<circle cx="628.39" cy="294.8" r="3.7" stroke="#000" stroke-width="1.8"/>
<path d="M624.5 287.1L632.29 294.3M624.5 294.3L632.29 287.1" stroke="#000" stroke-width="1.8"/>
<circle cx="644.23" cy="314" r="3.7" stroke="#000" stroke-width="1.8"/>
<path d="M640.33 290.2L648.12 297.4M640.33 297.4L648.12 290.2" stroke="#000" stroke-width="1.8"/>
<circle cx="660.06" cy="285.3" r="3.7" stroke="#000" stroke-width="1.8"/>
<circle cx="675.88" cy="285.3" r="3.7" stroke="#000" stroke-width="1.8"/>
<path d="M671.99 264.7L679.78 271.9M671.99 271.9L679.78 264.7" stroke="#000" stroke-width="1.8"/>
<path d="M524.6 296.7H683.8" stroke="#008000" stroke-width="2.5" stroke-dasharray="11.4 9.6"/>
</g>
<path d="M549.25 195v6.6M549.25 322.2v-6.6M580.9 195v6.6M580.9 322.2v-6.6M612.57 195v6.6M612.57 322.2v-6.6M644.23 195v6.6M644.23 322.2v-6.6M675.88 195v6.6M675.88 322.2v-6.6M525.5 213.7h6.6M683.8 213.7h-6.6M525.5 251.3h6.6M683.8 251.3h-6.6M525.5 288.7h6.6M683.8 288.7h-6.6" stroke="#000" stroke-width="1.6"/>
<rect x="525.5" y="195" width="158.3" height="127.2" stroke="#000" stroke-width="2.4"/>
<path d="M656.16 318.3L663.96 325.5M656.16 325.5L663.96 318.3" stroke="#000" stroke-width="1.8"/>
</g>
<g class="tk">
<text x="549.25" y="336.2" text-anchor="middle">2</text>
<text x="580.9" y="336.2" text-anchor="middle">4</text>
<text x="612.57" y="336.2" text-anchor="middle">6</text>
<text x="644.23" y="336.2" text-anchor="middle">8</text>
<text x="675.88" y="336.2" text-anchor="middle">10</text>
<text x="519.8" y="218.3" text-anchor="end">0.0</text>
<text x="519.8" y="255.9" text-anchor="end">0.2</text>
<text x="503.5" y="255.9" text-anchor="end" textLength="10" lengthAdjust="spacingAndGlyphs">−</text>
<text x="519.8" y="293.3" text-anchor="end">0.4</text>
<text x="503.5" y="293.3" text-anchor="end" textLength="10" lengthAdjust="spacingAndGlyphs">−</text>
</g>
<text class="pl" x="-0.1" y="13.9">(a)</text>
<text class="pl" x="232.2" y="13.9">(b)</text>
<text class="pl" x="469.6" y="13.9">(c)</text>
<text class="pl" x="-2.3" y="189.6">(d)</text>
<text class="pl" x="230.6" y="189.6">(e)</text>
<text class="pl" x="468.3" y="189.6">(f)</text>
<text class="ti" x="134.85" y="14.1" text-anchor="middle" textLength="82" lengthAdjust="spacingAndGlyphs">Neuron 1</text>
<text class="ti" x="369.6" y="14.1" text-anchor="middle" textLength="82" lengthAdjust="spacingAndGlyphs">Neuron 2</text>
<text class="ti" x="605.3" y="14.1" text-anchor="middle" textLength="82" lengthAdjust="spacingAndGlyphs">Neuron 3</text>
<text class="it" x="130.2" y="173.3" text-anchor="middle" textLength="9.4" lengthAdjust="spacingAndGlyphs">n</text>
<text class="it" x="365.08" y="173.3" text-anchor="middle" textLength="9.4" lengthAdjust="spacingAndGlyphs">n</text>
<text class="it" x="600.05" y="173.3" text-anchor="middle" textLength="9.4" lengthAdjust="spacingAndGlyphs">n</text>
<text class="it" x="134.55" y="350.2" text-anchor="middle" textLength="9.4" lengthAdjust="spacingAndGlyphs">n</text>
<text class="it" x="369.55" y="350.2" text-anchor="middle" textLength="9.4" lengthAdjust="spacingAndGlyphs">n</text>
<text class="it" x="604.65" y="350.2" text-anchor="middle" textLength="9.4" lengthAdjust="spacingAndGlyphs">n</text>
<text class="yl" transform="translate(15 86) rotate(-90)" text-anchor="middle" textLength="27.6" lengthAdjust="spacingAndGlyphs">CV<tspan class="sub" dy="2.1">n</tspan></text>
<text class="yl" transform="translate(249.5 86) rotate(-90)" text-anchor="middle" textLength="27.6" lengthAdjust="spacingAndGlyphs">CV<tspan class="sub" dy="2.1">n</tspan></text>
<text class="yl" transform="translate(484.5 86) rotate(-90)" text-anchor="middle" textLength="27.6" lengthAdjust="spacingAndGlyphs">CV<tspan class="sub" dy="2.1">n</tspan></text>
<text class="yl" transform="translate(13 258.5) rotate(-90)" text-anchor="middle" textLength="16" lengthAdjust="spacingAndGlyphs"><tspan font-style="italic">S</tspan><tspan class="sub" dy="2.1">n</tspan></text>
<text class="yl" transform="translate(247.5 258.5) rotate(-90)" text-anchor="middle" textLength="16" lengthAdjust="spacingAndGlyphs"><tspan font-style="italic">S</tspan><tspan class="sub" dy="2.1">n</tspan></text>
<text class="yl" transform="translate(482.5 258.5) rotate(-90)" text-anchor="middle" textLength="16" lengthAdjust="spacingAndGlyphs"><tspan font-style="italic">S</tspan><tspan class="sub" dy="2.1">n</tspan></text>
</svg>
</body></html>
